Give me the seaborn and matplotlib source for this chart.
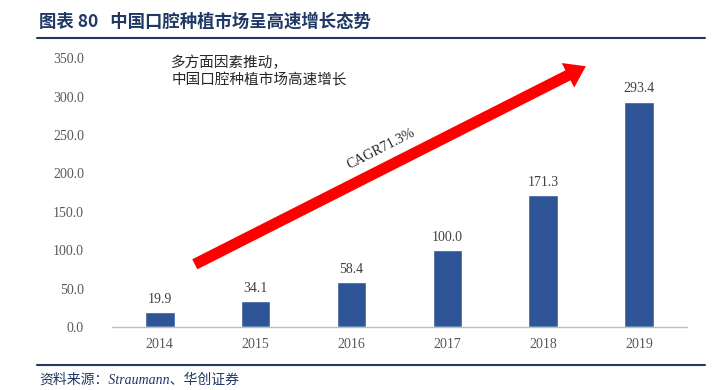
import numpy as np
import pandas as pd
import matplotlib.pyplot as plt
import seaborn as sns

years = ['2014', '2015', '2016', '2017', '2018', '2019']
market = [19.9, 34.1, 58.4, 100.0, 171.3, 293.4]
yticks = [0, 50, 100, 150, 200, 250, 300, 350]

title = '图表 80   中国口腔种植市场呈高速增长态势'
note = '多方面因素推动，\n中国口腔种植市场高速增长'
cagr_label = 'CAGR71.3%'
source = '资料来源：Straumann、华创证券'

sns.set_theme(style='white')
plt.rcParams['font.family'] = ['Liberation Serif', 'Noto Sans CJK SC', 'DejaVu Sans']

df = pd.DataFrame({'year': years, 'value': market})

fig = plt.figure(figsize=(7.12, 3.9), dpi=100)
ax = fig.add_axes([0.157, 0.1615, 0.808, 0.6895])

sns.barplot(data=df, x='year', y='value', color='#2F5597', width=0.31,
            saturation=1, ax=ax)

ax.set_ylim(0, 350)
ax.set_yticks(yticks)
ax.set_yticklabels([f'{v:.1f}' for v in yticks], color='#595959', fontsize=10)
ax.tick_params(axis='x', colors='#595959', labelsize=10, length=0, pad=8)
ax.tick_params(axis='y', length=0, pad=20)
ax.set_xlabel('')
ax.set_ylabel('')
for side in ['top', 'right', 'left']:
    ax.spines[side].set_visible(False)
ax.spines['bottom'].set_color('#BFBFBF')
ax.spines['bottom'].set_linewidth(1)

for i, v in enumerate(market):
    ax.text(i, v + 8, f'{v:.1f}', ha='center', va='bottom',
            color='#404040', fontsize=10)

# red growth arrow
ax.annotate('', xy=(4.47, 341), xytext=(0.34, 80),
            arrowprops=dict(arrowstyle='simple,head_width=2.2,head_length=1.6,tail_width=0.9',
                            color='#FF0000', lw=0, mutation_scale=9),
            annotation_clip=False)
ax.text(2.31, 232, cagr_label, rotation=27, ha='center', va='center',
        fontsize=10, color='#262626')

ax.text(0.12, 353, note, ha='left', va='top', fontsize=10.5, color='#262626',
        linespacing=1.3, family=['Noto Sans CJK SC', 'DejaVu Sans'], clip_on=False)

# header and footer
fig.text(0.055, 0.945, title, ha='left', va='center', fontsize=12.5,
         fontweight='bold', color='#1F3864',
         family=['Noto Sans CJK SC', 'DejaVu Sans'])
fig.add_artist(plt.Line2D([0.052, 0.99], [0.902, 0.902], color='#1F3864', lw=1.5))
fig.add_artist(plt.Line2D([0.052, 0.99], [0.063, 0.063], color='#1F3864', lw=1.5))
fig.text(0.055, 0.025, source, ha='left', va='center', fontsize=10,
         style='italic', color='#1F3864',
         family=['Liberation Serif', 'Noto Sans CJK SC', 'DejaVu Sans'])

fig.savefig('out.png', dpi=100)
